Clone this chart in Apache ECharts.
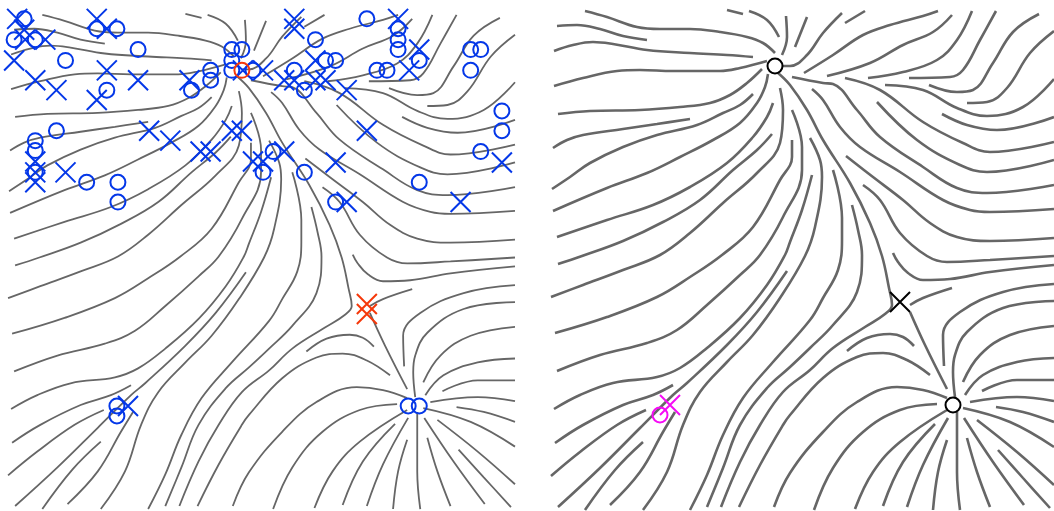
<!DOCTYPE html>
<html>
<head>
<meta charset="utf-8">
<style>
html, body { margin: 0; padding: 0; background: #fff; }
#chart { width: 1054px; height: 511px; }
</style>
<script src="https://cdn.jsdelivr.net/npm/echarts@6/dist/echarts.min.js"></script>
</head>
<body>
<div id="chart"></div>
<script>
// streamlines, shared by both panels
const streamlines = [
  [[45,11],[67,17],[97,27],[120,29],[150,29],[180,32],[207,37],[223,43],[235,53]],
  [[17,26],[37,25],[60,29],[83,36],[107,40]],
  [[14,51],[33,45],[53,42],[73,44],[107,50],[150,53],[187,55],[213,57]],
  [[14,86],[43,78],[77,71],[100,70],[133,71],[180,71],[200,68],[227,61]],
  [[18,114],[50,111],[100,110],[140,107],[170,103],[190,95],[207,83],[222,69]],
  [[13,148],[27,140],[43,135],[83,129],[117,124],[150,119]],
  [[12,189],[30,177],[50,163],[83,147],[117,135],[157,125],[183,113],[200,105],[213,94]],
  [[13,211],[67,188],[107,173],[140,157],[173,140],[200,123],[217,103],[225,87],[228,74]],
  [[17,237],[67,220],[113,205],[150,187],[187,163],[213,137],[227,117],[233,103]],
  [[18,264],[42,256],[83,241],[123,222],[160,200],[193,170],[217,150],[232,134]],
  [[11,297],[43,285],[83,270],[120,255],[150,233],[183,203],[217,173],[240,143],[243,110],[240,88]],
  [[15,333],[67,317],[117,297],[150,277],[182,255],[213,227],[240,180],[252,157],[252,140]],
  [[17,371],[60,355],[107,343],[137,330],[167,305],[200,275],[220,255],[243,217],[262,170],[262,147],[252,110]],
  [[14,409],[40,395],[73,383],[117,377],[140,368],[167,348],[200,318],[227,285],[245,255],[250,242],[262,210],[272,175]],
  [[15,443],[43,425],[83,405],[113,395],[133,385]],
  [[11,476],[40,452],[77,425],[106,410]],
  [[18,507],[60,468],[100,428],[133,395],[147,383],[187,345],[217,312],[247,271]],
  [[70,505],[100,472],[123,432],[135,412]],
  [[45,510],[75,470],[103,442]],
  [[103,510],[127,472],[143,425],[160,392],[187,362],[213,335],[240,298],[265,256],[275,227],[282,177],[280,160],[270,138]],
  [[150,510],[167,475],[183,435],[203,398],[233,362],[270,320],[283,298],[298,270],[302,240],[302,218],[293,170]],
  [[167,507],[183,468],[200,425],[227,388],[250,367],[270,348],[293,325],[317,292],[322,255],[318,230],[312,205]],
  [[181,507],[200,462],[220,425],[243,392],[270,370],[293,348],[325,327],[345,314],[352,305],[349,288],[342,256],[330,223],[310,183],[283,140],[267,110],[250,85],[238,73]],
  [[370,312],[385,345],[407,389]],
  [[370,305],[383,298],[412,288]],
  [[199,507],[220,465],[243,425],[250,415],[283,378],[317,357],[343,353],[367,360],[390,375]],
  [[234,507],[250,473],[283,432],[317,402],[357,387],[383,390],[407,398]],
  [[307,351],[327,338],[350,334],[363,337],[374,346]],
  [[274,510],[293,468],[323,432],[360,410],[397,404]],
  [[315,509],[333,472],[360,442],[407,410]],
  [[343,506],[363,462],[395,424]],
  [[367,507],[383,465],[408,418]],
  [[393,510],[398,472],[407,440]],
  [[420,510],[417,472],[417,412]],
  [[450,507],[437,472],[427,438]],
  [[484,505],[453,462],[424,418]],
  [[510,508],[483,478],[458,450]],
  [[514,485],[477,452],[437,420]],
  [[514,447],[470,422],[423,408]],
  [[514,422],[483,412],[456,407]],
  [[514,401],[477,397],[430,402]],
  [[514,380],[477,380],[442,391]],
  [[514,358],[477,362],[443,375],[425,395]],
  [[514,326],[470,335],[440,355],[423,382]],
  [[514,301],[463,308],[427,332],[415,355],[413,372],[415,397]],
  [[514,284],[463,292],[420,312],[403,335],[404,366]],
  [[514,265],[450,272],[410,279],[383,280],[368,273],[358,262],[353,253]],
  [[514,256],[450,260],[407,262],[387,256],[360,233],[340,200],[323,185]],
  [[267,17],[255,47]],
  [[302,13],[283,33],[267,55],[250,66],[243,66]],
  [[325,11],[305,23]],
  [[398,11],[383,16],[350,25],[323,35],[293,55],[264,73]],
  [[412,15],[393,32],[363,45],[330,63],[287,76]],
  [[432,11],[417,40],[397,60],[363,72],[328,78]],
  [[456,11],[440,40],[423,70],[410,77],[369,78]],
  [[499,14],[473,32],[453,63],[433,90],[417,92],[389,85]],
  [[514,31],[490,53],[467,88],[447,102],[427,103]],
  [[514,79],[483,107],[447,116],[417,108],[383,90],[345,85]],
  [[514,117],[457,130],[427,125],[402,114]],
  [[514,142],[450,152],[423,143],[383,122],[340,90],[305,78]],
  [[514,160],[447,172],[420,165],[377,140],[337,102]],
  [[514,185],[447,193],[417,188],[383,167],[340,137],[317,110],[293,84],[283,83],[252,77]],
  [[514,209],[450,212],[430,210],[403,200],[360,172],[320,147],[300,127],[283,100],[272,89]],
  [[514,238],[450,241],[417,237],[390,223],[363,200],[333,177],[306,156]],
  [[187,10],[203,14]],
  [[209,11],[227,20],[239,37]],
  [[246,16],[247,37],[242,55]]
]

// left panel markers
const blueCircles = [
  [27,15],[17,36],[38,36],[68,57],[140,46],[99,25],[119,25],[109,87],[59,128],[38,138],[38,148],[38,170],
  [89,180],[120,180],[120,200],[193,87],[212,67],[212,77],[233,46],[243,46],[233,57],[233,67],[254,67],
  [264,170],[274,149],[367,15],[316,36],[326,57],[336,57],[295,67],[305,87],[377,67],[387,67],[398,25],
  [398,36],[398,46],[419,57],[470,46],[480,46],[470,67],[501,108],[501,128],[480,149],[305,170],[419,180],
  [336,200],[119,406],[119,416],[408,406],[419,406]
]
const blueCrosses = [
  [20,15],[27,26],[48,36],[28,36],[17,57],[38,77],[59,87],[99,15],[109,25],[109,67],[140,77],[99,97],
  [191,77],[151,128],[172,138],[202,149],[212,149],[233,128],[243,128],[38,159],[38,170],[38,180],[68,170],
  [254,159],[264,159],[244,67],[264,67],[285,77],[295,77],[316,57],[316,77],[326,77],[347,87],[367,128],
  [285,149],[336,160],[347,200],[295,15],[295,25],[398,15],[419,46],[409,67],[460,200],[501,160],[130,406]
]
const redCircles = [[243,67]]
const redCrosses = [[367,303],[367,313]]

// right panel markers
const blackCircles = [[235,66],[413,405]]
const blackCrosses = [[360,302]]
const magentaCircles = [[120,415]]
const magentaCrosses = [[130,405]]

const crossPath = 'path://M0 0L20 20M0 20L20 0'

function lineSeries(gridIndex, width) {
  return streamlines.map(pts => ({
    type: 'line',
    xAxisIndex: gridIndex,
    yAxisIndex: gridIndex,
    data: pts,
    smooth: 0.4,
    showSymbol: false,
    silent: true,
    clip: false,
    lineStyle: { color: '#666666', width: width }
  }))
}

function markerSeries(gridIndex, data, symbol, size, color, width) {
  return {
    type: 'scatter',
    xAxisIndex: gridIndex,
    yAxisIndex: gridIndex,
    data: data,
    symbol: symbol,
    symbolSize: size,
    clip: false,
    z: 5,
    itemStyle: { color: 'rgba(0,0,0,0)', borderColor: color, borderWidth: width, opacity: 1 }
  }
}

const blue = '#0437e8'
const red = '#f5380a'
const magenta = '#f50cf5'

let option = {
  animation: false,
  backgroundColor: '#fff',
  grid: [
    { left: 0, top: 4, width: 515, height: 506 },
    { left: 540, top: 0, width: 514, height: 511 }
  ],
  xAxis: [
    { type: 'value', gridIndex: 0, min: 3, max: 514, show: false },
    { type: 'value', gridIndex: 1, min: 0, max: 514, show: false }
  ],
  yAxis: [
    { type: 'value', gridIndex: 0, min: 0, max: 511, inverse: true, show: false },
    { type: 'value', gridIndex: 1, min: 0, max: 511, inverse: true, show: false }
  ],
  series: [
    ...lineSeries(0, 1.8),
    ...lineSeries(1, 2.6),
    markerSeries(0, blueCircles, 'circle', 15, blue, 2),
    markerSeries(0, blueCrosses, crossPath, 20, blue, 2),
    markerSeries(0, redCrosses, crossPath, 20, red, 2),
    markerSeries(0, redCircles, 'circle', 15, red, 2),
    markerSeries(1, blackCircles, 'circle', 15, '#000', 2),
    markerSeries(1, blackCrosses, crossPath, 20, '#000', 2),
    markerSeries(1, magentaCircles, 'circle', 15, magenta, 2),
    markerSeries(1, magentaCrosses, crossPath, 20, magenta, 2)
  ]
}

const chart = echarts.init(document.getElementById('chart'))
chart.setOption(option)
</script>
</body>
</html>
